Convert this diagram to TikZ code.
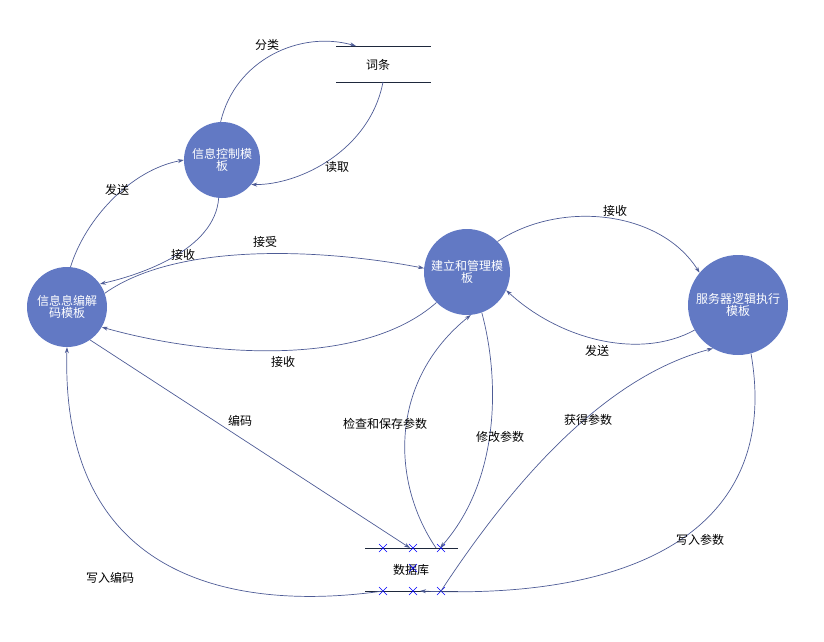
\documentclass[tikz,border=0pt]{standalone}
\usepackage{fontspec}
\usepackage{xcolor}
\usepackage{tikz}
\usetikzlibrary{positioning, arrows.meta, calc}
\setmainfont{Noto Sans CJK SC}
\definecolor{modfill}{RGB}{98,121,196}
\definecolor{flowline}{RGB}{78,92,150}
\definecolor{storeline}{RGB}{30,40,60}
\tikzset{
    module/.style={circle, fill=modfill, text=white, align=center, font=\fontsize{12}{11}\selectfont, inner sep=0pt},
    flow/.style={draw=flowline, line width=0.7pt, -{Stealth[length=6pt,width=4pt]}},
    lbl/.style={font=\fontsize{12}{13}\selectfont, text=black},
    store/.style={draw=storeline, line width=0.8pt},
    xmark/.style={draw=blue, line width=0.6pt}
}
\newcommand{\xcross}[1]{\draw[xmark] ($(#1)+(-4,-4)$) -- ($(#1)+(4,4)$) ($(#1)+(-4,4)$) -- ($(#1)+(4,-4)$);}
\begin{document}
\begin{tikzpicture}[x=1pt, y=-1pt]
    \useasboundingbox (0,0) rectangle (824,642);

    % modules
    \node[module, minimum size=76pt] (ctrl) at (222,160) {信息控制模\\板};
    \node[module, minimum size=80pt] (codec) at (67,307) {信息息编解\\码模板};
    \node[module, minimum size=86pt] (build) at (467,272) {建立和管理模\\板};
    \node[module, minimum size=100pt] (server) at (738,305) {服务器逻辑执行\\模板};

    % word store
    \draw[store] (336,46) -- (431,46);
    \draw[store] (336,82) -- (431,82);
    \node[lbl] (words) at (378,65) {词条};
    \coordinate (wordsin) at (356,46);
    \coordinate (wordsout) at (383,82);

    % database
    \draw[store] (365,548) -- (458,548);
    \draw[store] (365,591) -- (458,591);
    \node[lbl] (db) at (411,570) {数据库};
    \foreach \x in {383,413,441} {
        \xcross{\x,548}
        \xcross{\x,591}
    }
    \xcross{413,568}
    \coordinate (dbtopA) at (410,548);
    \coordinate (dbtopB) at (436,548);
    \coordinate (dbtopC) at (440,548);
    \coordinate (dbbotA) at (383,591);
    \coordinate (dbbotB) at (441,591);
    \coordinate (dbbotC) at (420,591);

    % flows
    \draw[flow] (ctrl.92) .. controls (235,60) and (300,30) .. (wordsin);
    \draw[flow] (wordsout) .. controls (370,150) and (300,185) .. (ctrl.-40);
    \draw[flow] (codec.85) .. controls (85,220) and (130,170) .. (ctrl.180);
    \draw[flow] (ctrl.265) .. controls (215,250) and (140,275) .. (codec.35);
    \draw[flow] (codec.20) .. controls (180,240) and (330,250) .. (build.175);
    \draw[flow] (build.225) .. controls (360,370) and (200,355) .. (codec.-30);
    \draw[flow] (build.45) .. controls (560,200) and (660,210) .. (server.140);
    \draw[flow] (server.210) .. controls (640,360) and (560,340) .. (build.-25);
    \draw[flow] (codec.-55) -- (dbtopA);
    \draw[flow] (dbbotA) .. controls (250,610) and (60,590) .. (codec.-90);
    \draw[flow] (dbtopB) .. controls (390,480) and (390,380) .. (build.-85);
    \draw[flow] (build.-70) .. controls (500,380) and (500,480) .. (dbtopC);
    \draw[flow] (dbbotB) .. controls (540,440) and (630,370) .. (server.240);
    \draw[flow] (server.-75) .. controls (780,520) and (650,600) .. (dbbotC);

    % flow labels
    \node[lbl] (lsort) at (267,45) {分类};
    \node[lbl] (lread) at (337,167) {读取};
    \node[lbl] (lsendA) at (117,190) {发送};
    \node[lbl] (lrecvA) at (183,255) {接收};
    \node[lbl] (laccept) at (265,242) {接受};
    \node[lbl] (lrecvB) at (283,362) {接收};
    \node[lbl] (lrecvC) at (615,211) {接收};
    \node[lbl] (lsendB) at (597,351) {发送};
    \node[lbl] (lencode) at (240,421) {编码};
    \node[lbl] (lwritecode) at (110,578) {写入编码};
    \node[lbl] (lcheck) at (385,424) {检查和保存参数};
    \node[lbl] (lmodify) at (500,437) {修改参数};
    \node[lbl] (lget) at (588,420) {获得参数};
    \node[lbl] (lwritepar) at (700,540) {写入参数};
\end{tikzpicture}
\end{document}
